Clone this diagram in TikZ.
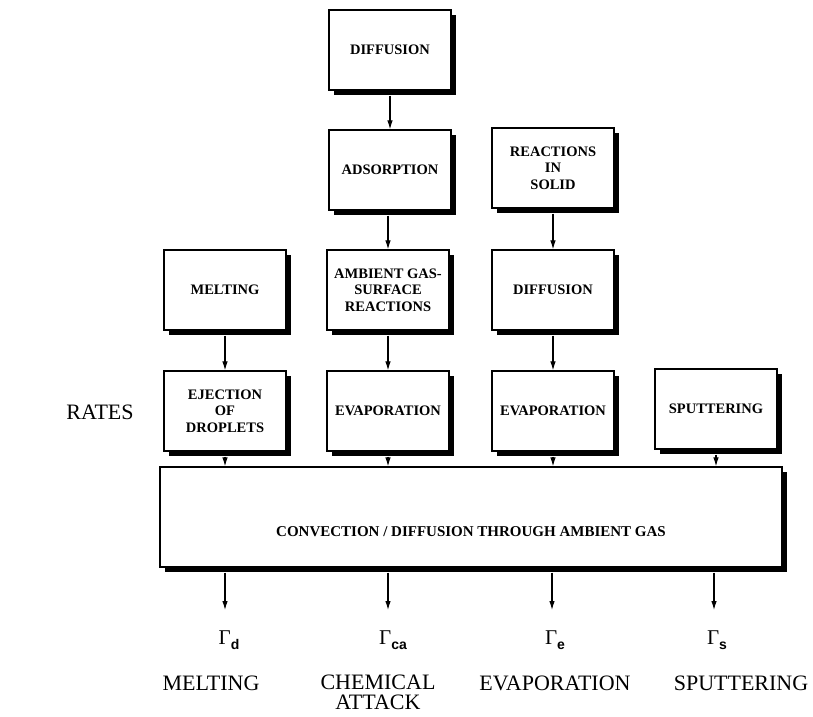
\documentclass[tikz,border=0pt]{standalone}
\usepackage{fontspec}
\setmainfont{Liberation Serif}
\newfontfamily\subfont{Liberation Sans}
\usetikzlibrary{arrows.meta,shadows}
\begin{document}
\begin{tikzpicture}[x=1pt,y=-1pt,
  box/.style={draw, line width=1.2pt, fill=white, minimum width=122pt, minimum height=80pt,
    align=center, inner sep=2pt, font=\bfseries\fontsize{14.5}{16.5}\selectfont,
    drop shadow={shadow xshift=4.5pt, shadow yshift=-5pt, fill=black, opacity=1}},
  arr/.style={line width=1.1pt, -{Latex[length=9pt,width=5.5pt]}},
  lab/.style={font=\fontsize{22}{22}\selectfont, inner sep=0pt},
  gam/.style={font=\fontsize{21}{21}\selectfont, inner sep=0pt}
]
\useasboundingbox (0,0) rectangle (813,716);
\node[box] (d1)  at (390,50)  {DIFFUSION};
\node[box] (ads) at (390,170) {ADSORPTION};
\node[box] (ris) at (553,168) {REACTIONS\\IN\\SOLID};
\node[box] (mel) at (225,290) {MELTING};
\node[box] (amb) at (388,290) {AMBIENT GAS-\\SURFACE\\REACTIONS};
\node[box] (d2)  at (553,290) {DIFFUSION};
\node[box] (ej)  at (225,411) {EJECTION\\OF\\DROPLETS};
\node[box] (ev1) at (388,411) {EVAPORATION};
\node[box] (ev2) at (553,411) {EVAPORATION};
\node[box] (sp)  at (716,409) {SPUTTERING};
\node[box, minimum width=622pt, minimum height=100pt, font=\bfseries\fontsize{15}{17}\selectfont] (big) at (471,517) {\raisebox{-19pt}[0pt][0pt]{CONVECTION / DIFFUSION THROUGH AMBIENT GAS}};
\node[lab] (rates) at (100,412) {RATES};

\draw[arr] ([yshift=-5pt]d1.south) -- (ads.north);
\draw[arr] ([yshift=-5pt]ads.south -| amb.north) -- (amb.north);
\draw[arr] ([yshift=-5pt]ris.south) -- (d2.north);
\draw[arr] ([yshift=-5pt]mel.south) -- (ej.north);
\draw[arr] ([yshift=-5pt]amb.south) -- (ev1.north);
\draw[arr] ([yshift=-5pt]d2.south) -- (ev2.north);
\draw[arr] ([yshift=-5pt]ej.south) -- (ej.south |- big.north);
\draw[arr] ([yshift=-5pt]ev1.south) -- (ev1.south |- big.north);
\draw[arr] ([yshift=-5pt]ev2.south) -- (ev2.south |- big.north);
\draw[arr] ([yshift=-5pt]sp.south) -- (sp.south |- big.north);

\coordinate (o1) at (225,610);
\coordinate (o2) at (388,610);
\coordinate (o3) at (552,610);
\coordinate (o4) at (714,610);
\draw[arr] ([yshift=-5pt]big.south -| o1) -- (o1);
\draw[arr] ([yshift=-5pt]big.south -| o2) -- (o2);
\draw[arr] ([yshift=-5pt]big.south -| o3) -- (o3);
\draw[arr] ([yshift=-5pt]big.south -| o4) -- (o4);

\node[gam] (g1) at (229,640) {Γ\raisebox{-5pt}{\subfont\bfseries\fontsize{14}{14}\selectfont d}};
\node[gam] (g2) at (393,640) {Γ\raisebox{-5pt}{\subfont\bfseries\fontsize{14}{14}\selectfont ca}};
\node[gam] (g3) at (555,640) {Γ\raisebox{-5pt}{\subfont\bfseries\fontsize{14}{14}\selectfont e}};
\node[gam] (g4) at (717,640) {Γ\raisebox{-5pt}{\subfont\bfseries\fontsize{14}{14}\selectfont s}};

\node[lab] (l1) at (211,683) {MELTING};
\node[lab, align=center, font=\fontsize{22}{20}\selectfont] (l2) at (378,692) {CHEMICAL\\ATTACK};
\node[lab] (l3) at (555,683) {EVAPORATION};
\node[lab] (l4) at (741,683) {SPUTTERING};
\end{tikzpicture}
\end{document}
